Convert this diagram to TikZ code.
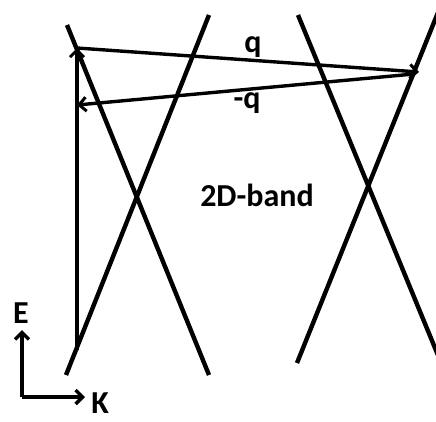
\documentclass[tikz,border=0pt]{standalone}
\usepackage{fontspec}
\setmainfont{Carlito}
\usetikzlibrary{arrows.meta}
\begin{document}
\begin{tikzpicture}[x=1pt,y=-1pt,
  band/.style={line width=4.4pt},
  trans/.style={line width=3.4pt,-{Straight Barb[length=7pt,width=14pt,line width=3pt]}},
  axis/.style={line width=4pt,-{Straight Barb[length=7pt,width=14pt,line width=3.4pt]}},
  lbl/.style={font=\bfseries\fontsize{32}{32}\selectfont,inner sep=0pt}]
\useasboundingbox (0,0) rectangle (436,421);
% band line end points
\coordinate (a1) at (67,25);
\coordinate (a2) at (209,375);
\coordinate (b1) at (209,15);
\coordinate (b2) at (66,375);
\coordinate (c1) at (298,15);
\coordinate (c2) at (442,365);
\coordinate (d1) at (443,0);
\coordinate (d2) at (297,363);
\begin{scope}
\clip (0,0) rectangle (436,421);
\draw[band] (a1) -- (a2);
\draw[band] (b1) -- (b2);
\draw[band] (c1) -- (c2);
\draw[band] (d1) -- (d2);
\end{scope}
% transitions
\coordinate (v0) at (77,350);
\coordinate (v1) at (77,48);
\coordinate (r1) at (419,72);
\coordinate (r2) at (414,74);
\coordinate (l1) at (77,105);
\draw[trans] (v0) -- (v1);
\draw[trans] (v1) -- (r1);
\draw[trans] (r2) -- (l1);
\node[lbl] (q) at (253,47) {q};
\node[lbl] (mq) at (247,103) {-q};
\node[lbl] (band2d) at (257,195) {2D-band};
% axes
\coordinate (o) at (22,397);
\coordinate (ey) at (22,330);
\coordinate (kx) at (85,397);
\draw[axis] (o) -- (ey);
\draw[axis] (o) -- (kx);
\node[lbl] (E) at (21,313) {E};
\node[lbl] (K) at (100,403) {K};
\end{tikzpicture}
\end{document}
